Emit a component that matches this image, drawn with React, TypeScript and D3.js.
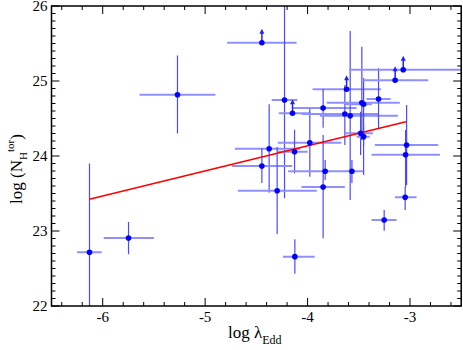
import React from "react";
import * as d3 from "d3";

// log lambda_Edd
const lx = [-6.129, -5.748, -5.270, -4.446, -4.225, -4.147, -3.978, -4.375, -4.446, -4.297, -4.124, -4.127,
  -3.619, -3.848, -3.636, -3.584, -3.470, -3.453, -3.307, -3.145, -3.066, -3.482, -3.453, -3.033, -3.043,
  -3.828, -3.567, -3.848, -3.047, -3.252];
// log N_H^tor
const ly = [22.716, 22.907, 24.817, 25.51, 24.747, 24.569, 24.177, 24.097, 23.867, 23.537, 22.658, 24.057,
  24.889, 24.640, 24.560, 24.537, 24.711, 24.689, 24.760, 25.009, 25.151, 24.302, 24.258, 24.147, 24.017,
  23.796, 23.796, 23.587, 23.449, 23.147];
const xLo = [-6.25, -5.99, -5.64, -4.785, -4.35, -4.28, -4.29, -4.71, -4.74, -4.68, -4.24, -4.29,
  -3.951, -4.153, -4.056, -3.880, -3.812, -3.636, -3.424, -3.463, -3.594, -3.636, -3.521, -3.343, -3.375,
  -4.190, -3.685, -4.059, -3.147, -3.375];
const xHi = [-6.01, -5.50, -4.90, -4.107, -4.10, -3.97, -3.67, -4.07, -4.15, -3.91, -3.93, -4.00,
  -3.284, -3.521, -3.313, -3.118, -3.099, -3.372, -3.189, -2.822, -2.45, -3.362, -3.392, -2.725, -2.708,
  -3.685, -3.457, -3.636, -2.936, -3.131];
const yLo = [21.5, 22.69, 24.30, NaN, 23.436, NaN, 23.724, 23.51, 23.64, 22.96, 22.43, 23.77,
  NaN, 24.377, 24.147, 23.413, 24.213, 23.747, 24.369, NaN, NaN, 24.013, 24.147, 23.613, 23.587,
  23.68, 23.64, 22.903, 23.28, 23.004];
const yHi = [23.90, 23.12, 25.34, NaN, 26.5, NaN, 24.637, 24.69, 24.10, 24.12, 22.89, 24.35,
  NaN, 24.893, 24.947, 25.667, 25.457, 25.04, 25.169, NaN, NaN, 24.591, 24.413, 24.68, 24.347,
  23.947, 23.947, 24.28, 23.587, 23.28];
const lowerLimit = [false, false, false, true, false, true, false, false, false, false, false, false,
  true, false, false, false, false, false, false, true, true, false, false, false, false,
  false, false, false, false, false];

const fitX = [-6.13, -3.04];
const fitY = [23.423, 24.457];

const xTicks = [-6, -5, -4, -3];
const yTicks = [22, 23, 24, 25, 26];
const xDomain = [-6.5, -2.5];
const yDomain = [22, 26];

export default function App() {
  const W = 463, H = 350;
  const left = 51.5, right = 461.2, top = 6, bottom = 306;
  const x = d3.scaleLinear().domain(xDomain).range([left, right]);
  const y = d3.scaleLinear().domain(yDomain).range([bottom, top]);
  const xMinor = d3.range(-6.4, -2.5, 0.2).map((v) => +v.toFixed(2));
  const yMinor = d3.range(22.1, 26, 0.1).map((v) => +v.toFixed(2));
  const serif = "'Liberation Serif', 'Times New Roman', serif";
  const idx = d3.range(lx.length);
  const line = d3.line<number>().x((_, i) => x(fitX[i])).y((_, i) => y(fitY[i]));

  return (
    <svg width={W} height={H} style={{ position: "absolute", left: 0, top: 0, background: "#fff" }}>
      <defs>
        <clipPath id="plotclip">
          <rect x={left} y={top} width={right - left} height={bottom - top} />
        </clipPath>
      </defs>
      <g clipPath="url(#plotclip)">
        {idx.map((i) => (
          <g key={"e" + i}>
            <line x1={x(xLo[i])} x2={x(xHi[i])} y1={y(ly[i])} y2={y(ly[i])} stroke="#8f8fff" strokeWidth={2} />
            {!lowerLimit[i] && (
              <line x1={x(lx[i])} x2={x(lx[i])} y1={y(yLo[i])} y2={y(yHi[i])} stroke="#4a4aff" strokeWidth={1.2} />
            )}
          </g>
        ))}
        {idx.filter((i) => lowerLimit[i]).map((i) => (
          <g key={"a" + i}>
            <line x1={x(lx[i])} x2={x(lx[i])} y1={y(ly[i])} y2={y(ly[i]) - 11} stroke="#2020ff" strokeWidth={1.5} />
            <path
              d={`M${x(lx[i]) - 2.5},${y(ly[i]) - 9}L${x(lx[i])},${y(ly[i]) - 14}L${x(lx[i]) + 2.5},${y(ly[i]) - 9}Z`}
              fill="#2020ff"
            />
          </g>
        ))}
        <path d={line([0, 1]) || ""} stroke="#ff0000" strokeWidth={1.6} fill="none" />
        {idx.map((i) => (
          <circle key={"p" + i} cx={x(lx[i])} cy={y(ly[i])} r={2.8} fill="#0000ff" />
        ))}
      </g>
      {/* ticks */}
      <g stroke="#000" strokeWidth={1}>
        {xTicks.map((t) => (
          <g key={"xt" + t}>
            <line x1={x(t)} x2={x(t)} y1={bottom} y2={bottom - 8} />
            <line x1={x(t)} x2={x(t)} y1={top} y2={top + 8} />
          </g>
        ))}
        {xMinor.filter((t) => Math.abs(t - Math.round(t)) > 0.01).map((t) => (
          <g key={"xm" + t}>
            <line x1={x(t)} x2={x(t)} y1={bottom} y2={bottom - 4} />
            <line x1={x(t)} x2={x(t)} y1={top} y2={top + 4} />
          </g>
        ))}
        {yTicks.map((t) => (
          <g key={"yt" + t}>
            <line x1={left} x2={left + 8} y1={y(t)} y2={y(t)} />
            <line x1={right} x2={right - 8} y1={y(t)} y2={y(t)} />
          </g>
        ))}
        {yMinor.filter((t) => Math.abs(t - Math.round(t)) > 0.01).map((t) => (
          <g key={"ym" + t}>
            <line x1={left} x2={left + 4} y1={y(t)} y2={y(t)} />
            <line x1={right} x2={right - 4} y1={y(t)} y2={y(t)} />
          </g>
        ))}
      </g>
      <rect x={left} y={top} width={right - left} height={bottom - top} fill="none" stroke="#000" strokeWidth={1.5} />
      <g fontFamily={serif} fontSize={15} fill="#000">
        {xTicks.map((t) => (
          <text key={"xl" + t} x={x(t)} y={bottom + 16} textAnchor="middle">{"-" + Math.abs(t)}</text>
        ))}
        {yTicks.map((t) => (
          <text key={"yl" + t} x={left - 4} y={y(t) + 5} textAnchor="end">{t}</text>
        ))}
      </g>
      <text x={228} y={338} fontFamily={serif} fontSize={17} fill="#000">
        log λ<tspan dy={6} fontSize={12}>Edd</tspan>
      </text>
      <text transform={`translate(22,${169}) rotate(-90)`} textAnchor="middle" fontFamily={serif} fontSize={17} fill="#000">
        log (N<tspan dy={5} fontSize={11}>H</tspan><tspan dy={-13} fontSize={11}>tor</tspan><tspan dy={8}>)</tspan>
      </text>
    </svg>
  );
}
